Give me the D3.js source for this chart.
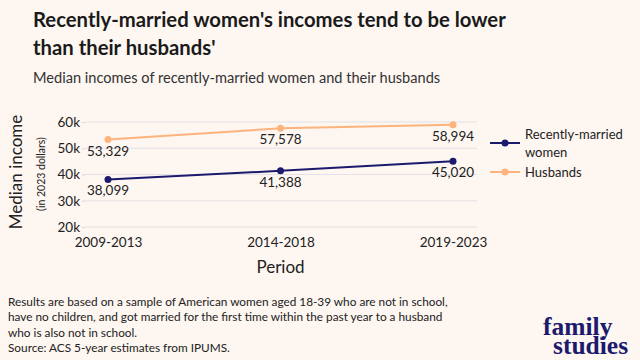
<!DOCTYPE html>
<html>
<head>
<meta charset="utf-8">
<script src="https://cdn.jsdelivr.net/npm/d3@7"></script>
<style>
  body { margin: 0; background: #fdf6f1; }
  svg { display: block; font-family: Lato, sans-serif; }
</style>
</head>
<body>
<div id="chart"></div>
<script>
// data
const periods = ["2009-2013", "2014-2018", "2019-2023"];
const women = [38099, 41388, 45020];
const husbands = [53329, 57578, 58994];
const yTicks = [20000, 30000, 40000, 50000, 60000];
const seriesNames = ["Recently-married women", "Husbands"];

const navy = "#1b1a6d";
const orange = "#fdb47c";

const svg = d3.select("#chart")
  .append("svg")
  .attr("width", 640)
  .attr("height", 360);

svg.append("rect").attr("width", 640).attr("height", 360).attr("fill", "#fdf6f1");

// title block
svg.append("text")
  .attr("x", 33).attr("y", 27)
  .attr("font-size", "20.3px").attr("font-weight", 700).attr("fill", "#1a1a1a")
  .text("Recently-married women's incomes tend to be lower");
svg.append("text")
  .attr("x", 33).attr("y", 55)
  .attr("font-size", "20.3px").attr("font-weight", 700).attr("fill", "#1a1a1a")
  .text("than their husbands'");
svg.append("text")
  .attr("x", 33).attr("y", 83)
  .attr("font-size", "14.6px").attr("fill", "#333")
  .text("Median incomes of recently-married women and their husbands");

const x = d3.scalePoint()
  .domain(periods)
  .range([108, 453]);

const y = d3.scaleLinear()
  .domain([20000, 60000])
  .range([227, 122]);

const gridLeft = 85, gridRight = 477;

// gridlines
svg.append("g")
  .selectAll("line")
  .data(yTicks)
  .enter()
  .append("line")
  .attr("x1", gridLeft).attr("x2", gridRight)
  .attr("y1", d => y(d)).attr("y2", d => y(d))
  .attr("stroke", "#e4e2e6").attr("stroke-width", 1.2);

// y axis
const yAxis = svg.append("g")
  .attr("transform", `translate(${gridLeft},0)`)
  .call(d3.axisLeft(y).tickValues(yTicks).tickFormat(d => d / 1000 + "k").tickSize(3).tickPadding(2));
yAxis.select(".domain").remove();
yAxis.selectAll("line").attr("stroke", "#d8d6da");
yAxis.selectAll("text").attr("font-size", "13.5px").attr("fill", "#222").attr("font-family", "Lato, sans-serif");

// x axis
const xAxis = svg.append("g")
  .attr("transform", `translate(0,${y(20000)})`)
  .call(d3.axisBottom(x).tickSize(0).tickPadding(10));
xAxis.select(".domain").remove();
xAxis.selectAll("text").attr("font-size", "13.5px").attr("fill", "#222").attr("font-family", "Lato, sans-serif");

// axis titles
svg.append("text")
  .attr("transform", "translate(22,172) rotate(-90)")
  .attr("text-anchor", "middle")
  .attr("font-size", "17px").attr("fill", "#222")
  .text("Median income");
svg.append("text")
  .attr("transform", "translate(45,174) rotate(-90)")
  .attr("text-anchor", "middle")
  .attr("font-size", "10.5px").attr("fill", "#222")
  .text("(in 2023 dollars)");
svg.append("text")
  .attr("x", x(periods[1])).attr("y", 273)
  .attr("text-anchor", "middle")
  .attr("font-size", "17px").attr("fill", "#222")
  .text("Period");

// lines
const line = d3.line()
  .x((d, i) => x(periods[i]))
  .y(d => y(d));

const series = [
  { values: women, color: navy },
  { values: husbands, color: orange }
];

series.forEach(s => {
  svg.append("path")
    .datum(s.values)
    .attr("d", line)
    .attr("fill", "none")
    .attr("stroke", s.color)
    .attr("stroke-width", 2);

  svg.append("g")
    .selectAll("circle")
    .data(s.values)
    .enter()
    .append("circle")
    .attr("cx", (d, i) => x(periods[i]))
    .attr("cy", d => y(d))
    .attr("r", 3.5)
    .attr("fill", s.color);

  svg.append("g")
    .selectAll("text")
    .data(s.values)
    .enter()
    .append("text")
    .attr("x", (d, i) => x(periods[i]))
    .attr("y", d => y(d) + 16)
    .attr("text-anchor", "middle")
    .attr("font-size", "13.5px")
    .attr("fill", "#222")
    .text(d => d3.format(",")(d));
});

// legend
const legend = svg.append("g");
const legendRows = [
  { lines: ["Recently-married", "women"], color: navy, y: 143 },
  { lines: ["Husbands"], color: orange, y: 172 }
];
legendRows.forEach(r => {
  legend.append("line")
    .attr("x1", 490).attr("x2", 520)
    .attr("y1", r.y).attr("y2", r.y)
    .attr("stroke", r.color).attr("stroke-width", 2);
  legend.append("circle")
    .attr("cx", 505).attr("cy", r.y).attr("r", 3.5).attr("fill", r.color);
  const yStart = r.lines.length > 1 ? r.y - 4 : r.y + 5;
  r.lines.forEach((t, i) => {
    legend.append("text")
      .attr("x", 525).attr("y", yStart + i * 18)
      .attr("font-size", "13px").attr("fill", "#222")
      .text(t);
  });
});

// footnote
const notes = [
  "Results are based on a sample of American women aged 18-39 who are not in school,",
  "have no children, and got married for the first time within the past year to a husband",
  "who is also not in school.",
  "Source: ACS 5-year estimates from IPUMS."
];
svg.append("g")
  .selectAll("text")
  .data(notes)
  .enter()
  .append("text")
  .attr("x", 8)
  .attr("y", (d, i) => 306 + i * 15.3)
  .attr("font-size", "11.8px")
  .attr("fill", "#222")
  .text(d => d);

// logo
const logo = svg.append("text")
  .attr("font-family", "'Liberation Serif', serif").attr("font-weight", 700)
  .attr("font-size", "25.5px").attr("fill", navy);
logo.append("tspan").attr("x", 543).attr("y", 335).text("family");
logo.append("tspan").attr("x", 553).attr("y", 354).text("studies");
</script>
</body>
</html>
